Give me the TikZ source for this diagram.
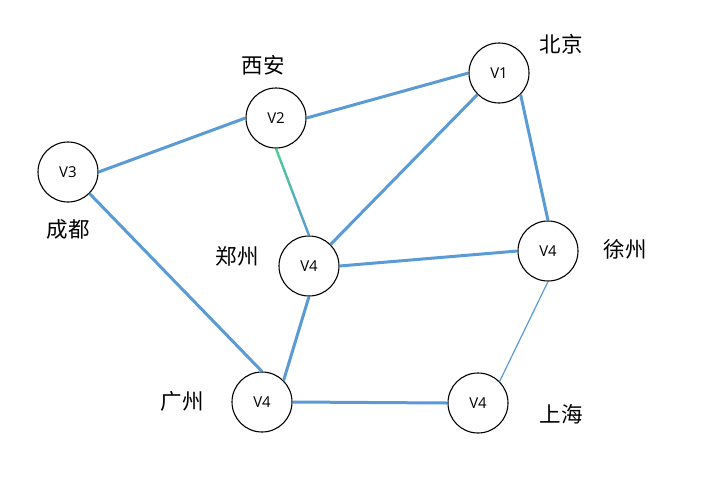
\documentclass[tikz,border=0pt]{standalone}
\usepackage{fontspec}
\usetikzlibrary{calc}
\setmainfont{Open Sans}
\newfontfamily\cjk{Noto Sans CJK SC}
\definecolor{edgeblue}{RGB}{91,155,213}
\definecolor{edgegreen}{RGB}{78,204,150}
\begin{document}
\begin{tikzpicture}[x=1pt,y=-1pt,
  city/.style={circle,draw=black,line width=1.1pt,minimum size=60pt,inner sep=0pt,fill=white,font=\fontsize{15}{17}\selectfont},
  place/.style={font=\cjk\fontsize{21.5}{23}\selectfont,inner sep=0pt},
  road/.style={draw=edgeblue,line width=3pt},
  lane/.style={draw=edgeblue,line width=1.2pt}]
\useasboundingbox[fill=white] (0,0) rectangle (708,477);
\node[city] (v1) at (499,73) {V1};
\node[city] (v2) at (276,118) {V2};
\node[city] (v3) at (68,172) {V3};
\node[city] (zz) at (309,266) {V4};
\node[city] (xz) at (548,251) {V4};
\node[city] (gz) at (262,402) {V4};
\node[city] (sh) at (478,403) {V4};
\node[place] (lbj) at (561,44) {北京};
\node[place] (lxa) at (263,65) {西安};
\node[place] (lcd) at (68,229) {成都};
\node[place] (lzz) at (237,256) {郑州};
\node[place] (lxz) at (625,249) {徐州};
\node[place] (lgz) at (182,401) {广州};
\node[place] (lsh) at (561,414) {上海};
\path[road] (v3.east) -- (v2.west);
\path[road] (v2.east) -- (v1.west);
\path[road] (v1.south west) -- (zz.north east);
\path[road] (v1.south east) -- (xz.north);
\path[road] (zz.east) -- (xz.west);
\path[road] (v3.south east) -- (gz.north);
\path[road] (zz.south) -- (gz.north east);
\path[road] (gz.east) -- (sh.west);
\path[lane] (xz.south) -- (sh.north east);
\coordinate (gs) at (v2.south);
\coordinate (ge) at (zz.north);
\foreach \i in {0,...,11}{
  \pgfmathsetmacro{\mix}{100-\i*100/11}
  \colorlet{segc}{edgegreen!\mix!edgeblue}
  \pgfmathsetmacro{\ta}{\i/12}
  \pgfmathsetmacro{\tb}{min(1,(\i+1)/12+0.006)}
  \draw[segc,line width=2.4pt] ($(gs)!\ta!(ge)$) -- ($(gs)!\tb!(ge)$);
}
\end{tikzpicture}
\end{document}
